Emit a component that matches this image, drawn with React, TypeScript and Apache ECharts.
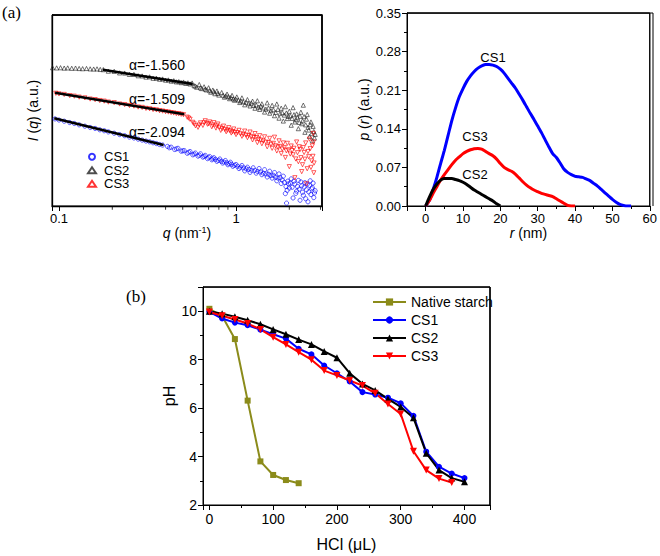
import React, { useEffect, useRef } from "react";
import * as echarts from "echarts";

const FONT = "'Liberation Sans', Arial, sans-serif";
const SERIF = "'Liberation Serif', 'Times New Roman', serif";

// ---------- Panel (a) left: SAXS I(q) vs q (arbitrary log-intensity units) ----------
const saxsCS2 = [
  [0.092, 72.4], [0.097, 72.3], [0.102, 72.4], [0.107, 72.2], [0.112, 72.3], [0.118, 72.1], [0.124, 72.2],
  [0.13, 72.0], [0.136, 71.9], [0.143, 72.0], [0.15, 71.8], [0.157, 71.7], [0.164, 71.8], [0.171, 71.5], [0.178, 71.4],
  [0.19, 70.6], [0.205, 70.5], [0.22, 69.7], [0.235, 69.6], [0.25, 68.9], [0.265, 68.9], [0.28, 68.2], [0.295, 68.1],
  [0.31, 67.5], [0.325, 67.6], [0.34, 66.9], [0.355, 66.9], [0.37, 66.4], [0.385, 66.5], [0.4, 65.9], [0.415, 66.0],
  [0.43, 65.4], [0.445, 65.6], [0.46, 65.0], [0.475, 65.1], [0.49, 64.6], [0.505, 64.9], [0.52, 64.2], [0.535, 64.5],
  [0.55, 63.9], [0.565, 64.4],
  [0.58, 63.0], [0.6, 62.2], [0.62, 63.6], [0.64, 61.5], [0.66, 62.4], [0.68, 60.8], [0.7, 61.9], [0.72, 59.6],
  [0.74, 60.7], [0.76, 58.8], [0.78, 60.2], [0.8, 58.1], [0.83, 59.4], [0.86, 57.0], [0.89, 58.6], [0.92, 56.2],
  [0.95, 57.9], [0.98, 55.4], [1.01, 57.1], [1.05, 54.2], [1.08, 56.6], [1.12, 53.0], [1.16, 55.7], [1.2, 52.4],
  [1.24, 54.9], [1.28, 51.2], [1.32, 55.1], [1.36, 50.6], [1.4, 53.5], [1.45, 49.2], [1.5, 54.0], [1.55, 48.6],
  [1.6, 52.7], [1.65, 47.3], [1.7, 53.4], [1.75, 46.0], [1.8, 51.2], [1.85, 44.5], [1.9, 52.0], [1.95, 45.8],
  [2.0, 49.6], [2.05, 42.3], [2.1, 51.5], [2.15, 44.0], [2.2, 48.2], [2.25, 40.5], [2.3, 47.0], [2.35, 43.1],
  [2.4, 52.8], [2.45, 38.6], [2.5, 45.5], [2.55, 41.2], [2.6, 36.4], [2.65, 44.0], [2.7, 34.2], [2.75, 39.0], [2.8, 37.5],
  [0.59, 62.8], [0.63, 61.9], [0.67, 61.2], [0.71, 60.4], [0.75, 59.9], [0.79, 59.0], [0.845, 58.0], [0.875, 57.6],
  [0.905, 57.3], [0.935, 56.8], [0.965, 56.1], [0.995, 56.0], [1.03, 55.5], [1.065, 55.0], [1.1, 54.6], [1.14, 54.3],
  [1.18, 53.6], [1.22, 53.9], [1.26, 52.7], [1.3, 52.9], [1.34, 51.8], [1.38, 52.3], [1.425, 51.4], [1.475, 50.7],
  [1.525, 51.3], [1.575, 49.9], [1.625, 50.4], [1.675, 49.0], [1.725, 50.6], [1.775, 48.4], [1.825, 48.9], [1.875, 47.6],
  [1.925, 48.7], [1.975, 46.9], [2.025, 47.3], [2.075, 45.9], [2.125, 47.8], [2.175, 45.2], [2.225, 46.3], [2.275, 43.8],
  [2.325, 49.1], [2.375, 44.6], [2.425, 46.8], [2.475, 42.5], [2.525, 47.9], [2.575, 39.8], [2.625, 42.6], [2.675, 37.9],
  [2.725, 41.7], [2.775, 35.6],
];
const saxsCS3 = [
  [0.096, 59.0], [0.1, 58.7], [0.107, 58.4], [0.115, 57.8], [0.122, 57.5], [0.13, 57.0], [0.14, 56.6], [0.15, 56.0],
  [0.16, 55.7], [0.17, 55.2], [0.18, 54.9], [0.19, 54.4], [0.205, 54.1], [0.22, 53.4], [0.235, 53.1], [0.25, 52.6],
  [0.265, 52.3], [0.28, 51.8], [0.295, 51.6], [0.31, 51.1], [0.325, 50.9], [0.34, 50.5], [0.355, 50.3], [0.37, 49.9],
  [0.385, 49.7], [0.4, 49.4], [0.415, 49.2], [0.43, 48.9], [0.445, 48.7], [0.46, 48.4], [0.475, 48.3], [0.49, 48.0],
  [0.505, 47.8],
  [0.53, 46.5], [0.55, 45.4], [0.57, 43.8], [0.59, 42.0], [0.61, 41.2], [0.63, 43.5], [0.65, 42.2], [0.67, 44.6],
  [0.69, 42.8], [0.71, 44.0], [0.73, 41.5], [0.75, 43.6], [0.77, 40.8], [0.79, 42.9], [0.82, 39.6], [0.85, 41.8],
  [0.88, 38.9], [0.91, 41.0], [0.94, 38.2], [0.97, 40.3], [1.0, 37.4], [1.04, 39.6], [1.08, 36.5], [1.12, 39.2],
  [1.16, 35.8], [1.2, 38.7], [1.24, 34.6], [1.28, 37.9], [1.32, 33.2], [1.36, 36.8], [1.4, 32.6], [1.45, 36.2],
  [1.5, 31.0], [1.55, 35.4], [1.6, 30.2], [1.65, 36.0], [1.7, 28.8], [1.75, 34.1], [1.8, 27.5], [1.85, 33.0],
  [1.9, 25.4], [1.95, 32.8], [2.0, 20.6], [2.05, 31.4], [2.1, 26.8], [2.15, 14.8], [2.2, 33.5], [2.25, 23.2],
  [2.3, 29.6], [2.35, 18.0], [2.4, 30.6], [2.45, 24.5], [2.5, 11.6], [2.55, 28.5], [2.6, 35.0], [2.65, 20.2],
  [2.7, 31.5], [2.72, 26.0], [2.75, 17.4],
  [0.54, 46.0], [0.58, 43.0], [0.62, 42.4], [0.66, 43.6], [0.7, 43.1], [0.74, 42.4], [0.78, 41.9], [0.805, 41.2],
  [0.835, 40.5], [0.865, 40.1], [0.895, 39.7], [0.925, 39.4], [0.955, 38.9], [0.985, 38.6], [1.02, 38.4], [1.06, 37.8],
  [1.1, 37.5], [1.14, 37.1], [1.18, 36.9], [1.22, 36.4], [1.26, 35.9], [1.3, 35.8], [1.34, 34.9], [1.38, 34.5],
  [1.425, 34.0], [1.475, 33.4], [1.525, 33.2], [1.575, 32.3], [1.625, 32.8], [1.675, 31.5], [1.725, 30.9], [1.775, 31.2],
  [1.825, 29.8], [1.875, 30.6], [1.925, 28.9], [1.975, 29.4], [2.025, 27.2], [2.075, 29.0], [2.125, 30.2], [2.175, 24.6],
  [2.225, 27.9], [2.275, 31.0], [2.325, 25.3], [2.375, 21.6], [2.425, 28.0], [2.475, 33.0], [2.525, 19.5], [2.575, 25.8],
  [2.625, 30.0], [2.675, 23.6], [2.73, 38.0], [2.74, 33.5], [2.76, 22.5],
];
const saxsCS1 = [
  [0.095, 45.6], [0.1, 45.0], [0.107, 44.4], [0.115, 43.7], [0.122, 43.2], [0.13, 42.5], [0.14, 41.8], [0.15, 41.1],
  [0.16, 40.6], [0.17, 39.9], [0.18, 39.4], [0.19, 38.8], [0.205, 38.1], [0.22, 37.4], [0.235, 36.8], [0.25, 36.1],
  [0.265, 35.6], [0.28, 35.0], [0.295, 34.5], [0.31, 34.0], [0.325, 33.6], [0.34, 33.1], [0.355, 32.7], [0.37, 32.2],
  [0.385, 31.9],
  [0.41, 31.2], [0.43, 30.8], [0.45, 29.6], [0.47, 30.2], [0.49, 28.7], [0.51, 29.0], [0.53, 27.6], [0.55, 28.5],
  [0.57, 26.8], [0.59, 27.7], [0.61, 26.1], [0.63, 27.3], [0.65, 25.6], [0.67, 26.5], [0.69, 24.8], [0.71, 25.9],
  [0.73, 24.2], [0.75, 25.3], [0.78, 23.4], [0.81, 24.6], [0.84, 22.5], [0.87, 23.8], [0.9, 21.6], [0.93, 22.9],
  [0.96, 20.8], [1.0, 21.7], [1.04, 19.6], [1.08, 21.2], [1.12, 18.4], [1.16, 20.3], [1.2, 17.6], [1.25, 20.0],
  [1.3, 17.2], [1.35, 19.6], [1.4, 16.4], [1.45, 19.0], [1.5, 15.2], [1.55, 18.2], [1.6, 14.6], [1.65, 17.5],
  [1.7, 13.2], [1.75, 16.8], [1.8, 11.8], [1.85, 15.6], [1.9, 6.5], [1.93, 1.5], [1.96, 13.0], [2.0, 9.4],
  [2.05, 14.2], [2.1, 4.2], [2.15, 11.5], [2.2, 7.8], [2.25, 13.4], [2.3, 3.0], [2.35, 10.6], [2.4, 5.6],
  [2.45, 12.2], [2.5, 8.5], [2.55, 2.2], [2.6, 10.8], [2.65, 6.0], [2.7, 9.6], [2.75, 4.4], [2.8, 8.0],
  [0.42, 30.5], [0.46, 29.9], [0.5, 28.9], [0.54, 28.1], [0.58, 27.2], [0.62, 26.6], [0.66, 26.0], [0.7, 25.4],
  [0.74, 24.7], [0.765, 24.4], [0.795, 23.9], [0.825, 23.4], [0.855, 23.0], [0.885, 22.6], [0.915, 22.2], [0.945, 21.8],
  [0.98, 21.3], [1.02, 20.8], [1.06, 20.3], [1.1, 20.0], [1.14, 19.5], [1.18, 19.1], [1.225, 18.7], [1.275, 18.6],
  [1.325, 18.1], [1.375, 17.8], [1.425, 17.2], [1.475, 16.8], [1.525, 16.6], [1.575, 15.9], [1.625, 16.1], [1.675, 15.0],
  [1.725, 14.6], [1.775, 14.8], [1.825, 13.6], [1.875, 12.4], [1.915, 10.2], [1.945, 8.2], [1.98, 11.6], [2.025, 12.0],
  [2.075, 9.8], [2.125, 13.0], [2.175, 6.6], [2.225, 10.2], [2.275, 8.8], [2.325, 12.6], [2.375, 7.2], [2.425, 9.9],
  [2.475, 3.8], [2.525, 11.4], [2.575, 7.4], [2.625, 13.2], [2.675, 9.0], [2.725, 12.0], [2.775, 6.8],
];
const fitCS2 = [[0.177, 71.3], [0.57, 63.9]];
const fitCS3 = [[0.095, 59.3], [0.51, 48.0]];
const fitCS1 = [[0.094, 45.9], [0.39, 31.9]];
const alphaLabels = ["α=-1.560", "α=-1.509", "α=-2.094"];
const saxsMinorTicks = [0.2, 0.3, 0.4, 0.5, 0.6, 0.7, 0.8, 0.9, 2, 3];

// ---------- Panel (a) right: p(r) ----------
const prCS1 = [
  [0, 0], [1, 0.01], [2, 0.03], [3, 0.052], [4, 0.077], [5, 0.101], [6, 0.128], [7, 0.155], [8, 0.178], [9, 0.198],
  [10, 0.213], [11, 0.226], [12, 0.236], [13, 0.244], [14, 0.25], [15, 0.254], [16, 0.2565], [17, 0.2568],
  [18, 0.2555], [19, 0.253], [20, 0.248], [21, 0.241], [22, 0.232], [23, 0.223], [24, 0.214], [25, 0.203],
  [26, 0.192], [27, 0.18], [28, 0.168], [29, 0.157], [30, 0.145], [31, 0.133], [32, 0.12], [33, 0.107],
  [34, 0.095], [35, 0.088], [36, 0.078], [37, 0.067], [38, 0.061], [39, 0.057], [40, 0.054], [41, 0.053],
  [42, 0.052], [43, 0.049], [44, 0.046], [45, 0.041], [46, 0.036], [47, 0.03], [48, 0.024], [49, 0.018],
  [50, 0.012], [51, 0.007], [52, 0.003], [53, 0.001], [54, 0], [55, 0],
];
const prCS3 = [
  [0, 0], [1, 0.01], [2, 0.023], [3, 0.035], [4, 0.047], [5, 0.057], [6, 0.066], [7, 0.075], [8, 0.083], [9, 0.089],
  [10, 0.095], [11, 0.099], [12, 0.102], [13, 0.104], [14, 0.1045], [15, 0.103], [16, 0.099], [17, 0.095],
  [18, 0.091], [19, 0.085], [20, 0.077], [21, 0.07], [22, 0.066], [23, 0.063], [24, 0.058], [25, 0.051],
  [26, 0.044], [27, 0.038], [28, 0.033], [29, 0.029], [30, 0.026], [31, 0.023], [32, 0.021], [33, 0.019],
  [34, 0.017], [35, 0.013], [36, 0.009], [37, 0.005], [38, 0.001], [39, 0], [40, 0],
];
const prCS2 = [
  [0, 0], [1, 0.016], [2, 0.03], [3, 0.04], [4, 0.047], [5, 0.05], [6, 0.05], [7, 0.05], [8, 0.048], [9, 0.046],
  [10, 0.043], [11, 0.039], [12, 0.034], [13, 0.029], [14, 0.025], [15, 0.021], [16, 0.017], [17, 0.013],
  [18, 0.009], [19, 0.004], [20, 0],
];

// ---------- Panel (b): pH titration ----------
const hcl = [0, 20, 40, 60, 80, 100, 120, 140, 160, 180, 200, 220, 240, 260, 280, 300, 320, 340, 360, 380, 400];
const phNative = [10.1, 9.8, 8.85, 6.31, 3.8, 3.24, 3.03, 2.9];
const phCS1 = [9.97, 9.7, 9.53, 9.42, 9.24, 9.05, 8.87, 8.45, 8.22, 7.76, 7.44, 7.1, 6.66, 6.56, 6.43, 6.2, 5.68, 4.2, 3.58, 3.3, 3.11];
const phCS2 = [10.0, 9.9, 9.77, 9.63, 9.46, 9.25, 9.05, 8.83, 8.63, 8.34, 8.08, 7.44, 7.0, 6.73, 6.38, 6.05, 5.6, 4.14, 3.44, 3.11, 2.96];
const phCS3 = [9.97, 9.81, 9.66, 9.49, 9.25, 8.93, 8.63, 8.31, 8.0, 7.55, 7.35, 7.14, 6.93, 6.61, 6.17, 5.76, 4.22, 3.44, 3.09, 2.93];

const BLUE = "#0000ff";
const RED = "#ff0000";
const BLACK = "#000000";
const OLIVE = "#8b8b1a";

// axis extents
const Q_MIN = 0.0913, Q_MAX = 3.06, I_MIN = 0, I_MAX = 100;
const R_MIN = -5, R_MAX = 60, P_MIN = 0, P_MAX = 0.35;
const H_MIN = -10, H_MAX = 440, PH_MIN = 2, PH_MAX = 11;

const GRIDS = [
  { left: 52, top: 15, width: 270, height: 191 },
  { left: 407, top: 13, width: 246, height: 193 },
  { left: 203, top: 287, width: 287, height: 218 },
];

const axisLineBlack = { show: true, onZero: false, lineStyle: { color: "#000", width: 1 } };
const labelBase = { color: "#000", fontFamily: FONT };

function pairs(ys: number[]) {
  return ys.map((v, i) => [hcl[i], v]);
}

// top + right edges of a plot frame, drawn through the axes
function frameSeries(id: string, xi: number, yi: number, x0: number, x1: number, y0: number, y1: number, w: number) {
  return {
    id, name: id, type: "line", xAxisIndex: xi, yAxisIndex: yi, silent: true,
    data: [[x0, y1], [x1, y1], [x1, y0]], symbol: "none", showSymbol: false,
    lineStyle: { color: "#000", width: w },
  };
}

export default function App() {
  const ref = useRef<HTMLDivElement>(null);
  useEffect(() => {
    if (!ref.current) return;
    const chart = echarts.init(ref.current, null, { renderer: "svg" });
    const scatterStyle = (c: string) => ({ color: "transparent", borderColor: c, borderWidth: 0.8 });
    const txt = (text: string, x: number, y: number, size: number, family = FONT, align = "center") => ({
      type: "text", x, y, silent: true,
      style: { text, fill: "#000", font: `${size}px ${family}`, textAlign: align, textVerticalAlign: "middle" },
    });
    const framePoly = (g: { left: number; top: number; width: number; height: number }, lw: number) => ({
      type: "polyline", silent: true,
      shape: { points: [[g.left, g.top], [g.left + g.width, g.top], [g.left + g.width, g.top + g.height]] },
      style: { stroke: "#000", lineWidth: lw, fill: null },
    });
    const option: any = {
      animation: false,
      textStyle: { fontFamily: FONT },
      grid: GRIDS.map((g) => ({ ...g, show: true, borderColor: "#000", borderWidth: 1, backgroundColor: "rgba(0,0,0,0)" })),
      xAxis: [
        {
          gridIndex: 0, type: "log", logBase: 10, min: Q_MIN, max: Q_MAX, position: "bottom",
          axisLine: { show: true, onZero: false, lineStyle: { color: "#000", width: 1.3 } },
          axisTick: { show: true, length: 5, lineStyle: { color: "#000" } },
          splitLine: { show: false },
          axisLabel: {
            ...labelBase, fontSize: 13, margin: 6,
            formatter: (v: number) => (Math.abs(v - 0.1) < 1e-6 ? "0.1" : Math.abs(v - 1) < 1e-6 ? "1" : ""),
          },
          name: "{i|q} (nm{s|-1})", nameLocation: "middle", nameGap: 18,
          nameTextStyle: {
            ...labelBase, fontSize: 14,
            rich: {
              i: { fontStyle: "italic", fontSize: 14, fontFamily: FONT, color: "#000" },
              s: { fontSize: 9, fontFamily: FONT, color: "#000", verticalAlign: "top" },
            },
          },
        },
        {
          gridIndex: 1, type: "value", min: R_MIN, max: R_MAX, minInterval: 10, maxInterval: 10, position: "bottom",
          axisLine: axisLineBlack,
          axisTick: { show: true, length: 5, lineStyle: { color: "#000" } },
          splitLine: { show: false },
          axisLabel: {
            ...labelBase, fontSize: 13, margin: 6,
            formatter: (v: number) => (v >= 0 && Math.abs(v % 10) < 1e-6 ? String(v) : ""),
          },
          name: "{i|r} (nm)", nameLocation: "middle", nameGap: 18,
          nameTextStyle: {
            ...labelBase, fontSize: 14,
            rich: { i: { fontStyle: "italic", fontSize: 14, fontFamily: FONT, color: "#000" } },
          },
        },
        {
          gridIndex: 1, type: "value", min: R_MIN, max: R_MAX, interval: 5, position: "bottom",
          axisLine: { show: false, onZero: false },
          axisTick: { show: true, length: 3, lineStyle: { color: "#000" } },
          axisLabel: { show: false }, splitLine: { show: false },
        },
        {
          gridIndex: 2, type: "value", min: H_MIN, max: H_MAX, minInterval: 100, maxInterval: 100, position: "bottom",
          axisLine: axisLineBlack,
          axisTick: { show: true, length: 5, lineStyle: { color: "#000" } },
          splitLine: { show: false },
          axisLabel: {
            ...labelBase, fontSize: 14, margin: 7,
            formatter: (v: number) => (v >= 0 && v <= 400 && Math.abs(v % 100) < 1e-6 ? String(v) : ""),
          },
          name: "HCl (μL)", nameLocation: "middle", nameGap: 31,
          nameTextStyle: { ...labelBase, fontSize: 16 },
        },
        {
          gridIndex: 2, type: "value", min: H_MIN, max: H_MAX, minInterval: 50, maxInterval: 50, position: "bottom",
          axisLine: { show: false, onZero: false },
          axisTick: { show: true, length: 3, lineStyle: { color: "#000" } },
          axisLabel: { show: false }, splitLine: { show: false },
        },
      ],
      yAxis: [
        {
          gridIndex: 0, type: "value", min: I_MIN, max: I_MAX, position: "left",
          axisLine: { show: true, onZero: false, lineStyle: { color: "#000", width: 1.3 } },
          axisTick: { show: false }, axisLabel: { show: false }, splitLine: { show: false },
          name: "{i|I} ({i|q}) (a.u.)", nameLocation: "middle", nameGap: 12, nameRotate: 90,
          nameTextStyle: {
            ...labelBase, fontSize: 14,
            rich: { i: { fontStyle: "italic", fontSize: 14, fontFamily: FONT, color: "#000" } },
          },
        },
        {
          gridIndex: 1, type: "value", min: P_MIN, max: P_MAX, interval: 0.07, position: "left",
          axisLine: axisLineBlack,
          axisTick: { show: true, length: 5, lineStyle: { color: "#000" } },
          minorTick: { show: true, splitNumber: 2, length: 3, lineStyle: { color: "#000" } },
          splitLine: { show: false },
          axisLabel: { ...labelBase, fontSize: 13, margin: 6, formatter: (v: number) => v.toFixed(2) },
          name: "{i|p} ({i|r}) (a.u.)", nameLocation: "middle", nameGap: 36, nameRotate: 90,
          nameTextStyle: {
            ...labelBase, fontSize: 14,
            rich: { i: { fontStyle: "italic", fontSize: 14, fontFamily: FONT, color: "#000" } },
          },
        },
        {
          gridIndex: 2, type: "value", min: PH_MIN, max: PH_MAX, interval: 2, position: "left",
          axisLine: axisLineBlack,
          axisTick: { show: true, length: 5, lineStyle: { color: "#000" } },
          splitLine: { show: false },
          axisLabel: { ...labelBase, fontSize: 14, margin: 6, formatter: (v: number) => (v <= 10 ? String(v) : "") },
          name: "pH", nameLocation: "middle", nameGap: 26, nameRotate: 90,
          nameTextStyle: { ...labelBase, fontSize: 16 },
        },
        {
          gridIndex: 2, type: "value", min: PH_MIN, max: PH_MAX, interval: 1, position: "left",
          axisLine: { show: false, onZero: false },
          axisTick: { show: true, length: 3, lineStyle: { color: "#000" } },
          axisLabel: { show: false }, splitLine: { show: false },
        },
      ],
      legend: [
        {
          data: ["a-CS1", "a-CS2", "a-CS3"], formatter: (n: string) => n.slice(2),
          orient: "vertical", left: 82, top: 145, itemWidth: 8, itemHeight: 6, itemGap: 0,
          textStyle: { ...labelBase, fontSize: 13, lineHeight: 13.5, padding: [0, 0, 0, 3] },
        },
        {
          data: ["Native starch", "CS1", "CS2", "CS3"],
          orient: "vertical", left: 367, top: 290, itemWidth: 33, itemHeight: 9, itemGap: 4,
          textStyle: { ...labelBase, fontSize: 14 },
        },
      ],
      graphic: [
        framePoly(GRIDS[0], 1.3),
        framePoly(GRIDS[1], 1),
        framePoly(GRIDS[2], 1),
        txt("(a)", 2, 12, 17, SERIF, "left"),
        txt("(b)", 126, 296, 17, SERIF, "left"),
        txt(alphaLabels[0], 157, 65, 14),
        txt(alphaLabels[1], 157, 99, 14),
        txt(alphaLabels[2], 157, 132, 14),
        txt("CS1", 493, 57, 13),
        txt("CS3", 475, 136, 13),
        txt("CS2", 475, 174, 13),
      ],
      series: [
        { name: "a-CS1", type: "scatter", xAxisIndex: 0, yAxisIndex: 0, data: saxsCS1, symbol: "circle", symbolSize: 4.2, itemStyle: scatterStyle(BLUE) },
        { name: "a-CS2", type: "scatter", xAxisIndex: 0, yAxisIndex: 0, data: saxsCS2, symbol: "triangle", symbolSize: 4.2, itemStyle: scatterStyle("#222") },
        { name: "a-CS3", type: "scatter", xAxisIndex: 0, yAxisIndex: 0, data: saxsCS3, symbol: "triangle", symbolRotate: 180, symbolSize: 4.2, itemStyle: scatterStyle(RED) },
        { name: "fit2", type: "line", xAxisIndex: 0, yAxisIndex: 0, data: fitCS2, symbol: "none", lineStyle: { color: BLACK, width: 2.5 }, z: 5 },
        { name: "fit3", type: "line", xAxisIndex: 0, yAxisIndex: 0, data: fitCS3, symbol: "none", lineStyle: { color: BLACK, width: 2.5 }, z: 5 },
        { name: "fit1", type: "line", xAxisIndex: 0, yAxisIndex: 0, data: fitCS1, symbol: "none", lineStyle: { color: BLACK, width: 2.5 }, z: 5 },
        {
          name: "qMinorTicks", type: "scatter", xAxisIndex: 0, yAxisIndex: 0, clip: false, silent: true,
          data: saxsMinorTicks.map((q) => [q, I_MIN]), symbol: "rect", symbolSize: [1, 3.5], symbolOffset: [0, 2],
          itemStyle: { color: "#000" },
        },
        frameSeries("frameA", 0, 0, Q_MIN, Q_MAX, I_MIN, I_MAX, 1.3),

        { name: "r-CS1", type: "line", xAxisIndex: 1, yAxisIndex: 1, data: prCS1, symbol: "none", smooth: 0.2, lineStyle: { color: BLUE, width: 3 } },
        { name: "r-CS3", type: "line", xAxisIndex: 1, yAxisIndex: 1, data: prCS3, symbol: "none", smooth: 0.2, lineStyle: { color: RED, width: 3 } },
        { name: "r-CS2", type: "line", xAxisIndex: 1, yAxisIndex: 1, data: prCS2, symbol: "none", smooth: 0.2, lineStyle: { color: BLACK, width: 3 } },
        frameSeries("frameB", 1, 1, R_MIN, R_MAX, P_MIN, P_MAX, 1),

        { name: "Native starch", type: "line", xAxisIndex: 3, yAxisIndex: 2, data: pairs(phNative), symbol: "rect", symbolSize: 6, itemStyle: { color: OLIVE }, lineStyle: { color: OLIVE, width: 2 } },
        { name: "CS1", type: "line", xAxisIndex: 3, yAxisIndex: 2, data: pairs(phCS1), symbol: "circle", symbolSize: 6, itemStyle: { color: BLUE }, lineStyle: { color: BLUE, width: 2 } },
        { name: "CS2", type: "line", xAxisIndex: 3, yAxisIndex: 2, data: pairs(phCS2), symbol: "triangle", symbolSize: 7, itemStyle: { color: BLACK }, lineStyle: { color: BLACK, width: 2 } },
        { name: "CS3", type: "line", xAxisIndex: 3, yAxisIndex: 2, data: pairs(phCS3), symbol: "triangle", symbolRotate: 180, symbolSize: 7, itemStyle: { color: RED }, lineStyle: { color: RED, width: 2 } },
        frameSeries("frameC", 3, 2, H_MIN, H_MAX, PH_MIN, PH_MAX, 1),
      ],
    };
    chart.setOption(option);
    return () => chart.dispose();
  }, []);
  return <div ref={ref} style={{ position: "absolute", left: 0, top: 0, width: 660, height: 556, background: "#fff" }} />;
}
